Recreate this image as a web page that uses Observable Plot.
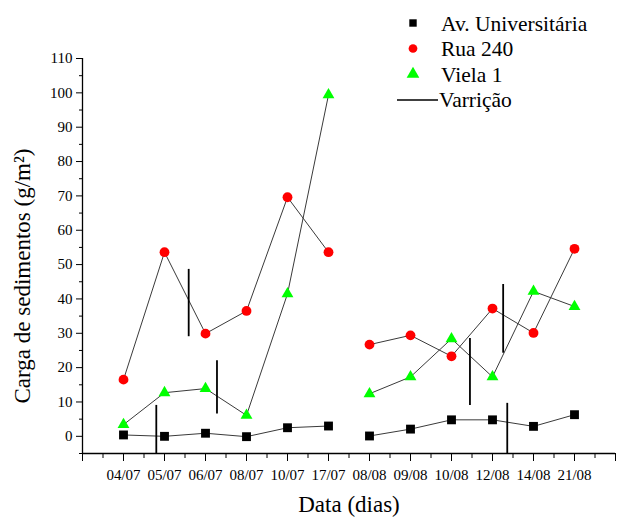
<!DOCTYPE html>
<html>
<head>
<meta charset="utf-8">
<script src="https://cdn.jsdelivr.net/npm/d3@7"></script>
<script src="https://cdn.jsdelivr.net/npm/@observablehq/plot@0.6"></script>
<style>
  body { margin: 0; background: #fff; }
  #wrap { position: relative; width: 618px; height: 518px; }
  #wrap svg, #wrap svg text { font-family: "Liberation Serif", "Times New Roman", serif !important; }
  #legend { position: absolute; left: 0; top: 0; overflow: visible; }
</style>
</head>
<body>
<div id="wrap"></div>
<script>
const dates = ["04/07","05/07","06/07","08/07","10/07","17/07","08/08","09/08","10/08","12/08","14/08","21/08"];
const avUniv = [0.4, 0.0, 0.9, -0.1, 2.5, 3.0, 0.1, 2.1, 4.8, 4.8, 2.9, 6.3];
const rua240 = [16.5, 53.6, 29.9, 36.5, 69.6, 53.6, 26.7, 29.4, 23.3, 37.2, 30.1, 54.6];
const viela1 = [3.4, 12.7, 13.9, 6.1, 41.5, 99.4, 12.4, 17.3, 28.4, 17.3, 42.2, 37.8];
const period = [1, 1, 1, 1, 1, 1, 2, 2, 2, 2, 2, 2];
const seriesNames = ["Av. Universitária", "Rua 240", "Viela 1"];
const seriesValues = [avUniv, rua240, viela1];
const seriesSymbols = ["square", "circle", "triangle"];
const seriesColors = ["#000000", "#ff0000", "#00ff00"];
const seriesR = [5.0, 4.9, 4.4];
const varricaoX = [1.8, 2.59, 3.28, 9.45, 10.26, 10.36];
const varricaoY1 = [-5, 29, 6.5, 9, 24.2, -5];
const varricaoY2 = [9, 48.6, 22, 28.5, 44.2, 9.6];

const rows = [];
seriesNames.forEach((s, k) => {
  dates.forEach((d, i) => rows.push({series: s, k, x: i + 1, y: seriesValues[k][i], period: period[i]}));
});
const varr = varricaoX.map((x, i) => ({x, y1: varricaoY1[i], y2: varricaoY2[i]}));

const chart = Plot.plot({
  width: 618,
  height: 518,
  marginLeft: 82,
  marginRight: 3,
  marginTop: 58,
  marginBottom: 65,
  style: {fontFamily: "'Liberation Serif', serif", background: "#fff", color: "#000"},
  x: {domain: [0, 13], axis: null},
  y: {domain: [-5, 110], axis: null},
  marks: [
    Plot.axisY(d3.range(0, 111, 10), {tickSize: 6, tickPadding: 4, fontSize: 15, tickFormat: d3.format("d"), stroke: "#000", strokeOpacity: 1, label: null}),
    Plot.axisY(d3.range(-5, 110, 10), {tickSize: 3, tickFormat: () => "", stroke: "#000", strokeOpacity: 1, label: null}),
    Plot.axisX(d3.range(0, 14), {tickSize: 8, tickPadding: 8, fontSize: 15, tickFormat: v => dates[v - 1] ?? "", stroke: "#000", strokeOpacity: 1, label: null}),
    Plot.axisX(d3.range(0.5, 13, 1), {tickSize: 5, tickFormat: () => "", stroke: "#000", strokeOpacity: 1, label: null}),
    Plot.ruleX([0], {y1: -5, y2: 110, stroke: "#000", strokeWidth: 1.3}),
    Plot.ruleY([-5], {x1: 0, x2: 13, stroke: "#000", strokeWidth: 1.3}),
    Plot.line(rows, {x: "x", y: "y", z: d => d.series + d.period, stroke: "#3a3a3a", strokeWidth: 1}),
    Plot.ruleX(varr, {x: "x", y1: "y1", y2: "y2", stroke: "#000", strokeWidth: 1.8}),
    ...seriesNames.map((s, k) => Plot.dot(rows.filter(d => d.k === k), {
      x: "x", y: "y", symbol: seriesSymbols[k], fill: seriesColors[k], r: seriesR[k], stroke: "none"
    })),
    Plot.text(["Carga de sedimentos (g/m²)"], {frameAnchor: "left", textAnchor: "middle", lineAnchor: "middle", dx: -60, dy: 20, rotate: -90, fontSize: 23, fill: "#000"}),
    Plot.text(["Data (dias)"], {frameAnchor: "bottom", lineAnchor: "middle", dy: 51, fontSize: 23, fill: "#000"})
  ]
});
document.getElementById("wrap").appendChild(chart);

// Legend
const leg = d3.select("#wrap").append("svg").attr("id", "legend").attr("width", 618).attr("height", 125);
const legY = [23, 48.5, 74, 99];
seriesNames.forEach((s, k) => {
  leg.append("path")
    .attr("d", d3.symbol(k === 0 ? d3.symbolSquare : k === 1 ? d3.symbolCircle : d3.symbolTriangle, k === 0 ? 55 : k === 1 ? 60 : 70)())
    .attr("transform", `translate(413,${legY[k]})`)
    .attr("fill", seriesColors[k]);
  leg.append("text").attr("x", 441).attr("y", legY[k]).attr("dy", "0.35em")
    .attr("font-size", 21.5).text(s);
});
leg.append("line").attr("x1", 397).attr("x2", 438).attr("y1", legY[3] + 1).attr("y2", legY[3] + 1).attr("stroke", "#000").attr("stroke-width", 1.6);
leg.append("text").attr("x", 439).attr("y", legY[3]).attr("dy", "0.35em")
  .attr("font-size", 21.5).text("Varrição");
</script>
</body>
</html>
